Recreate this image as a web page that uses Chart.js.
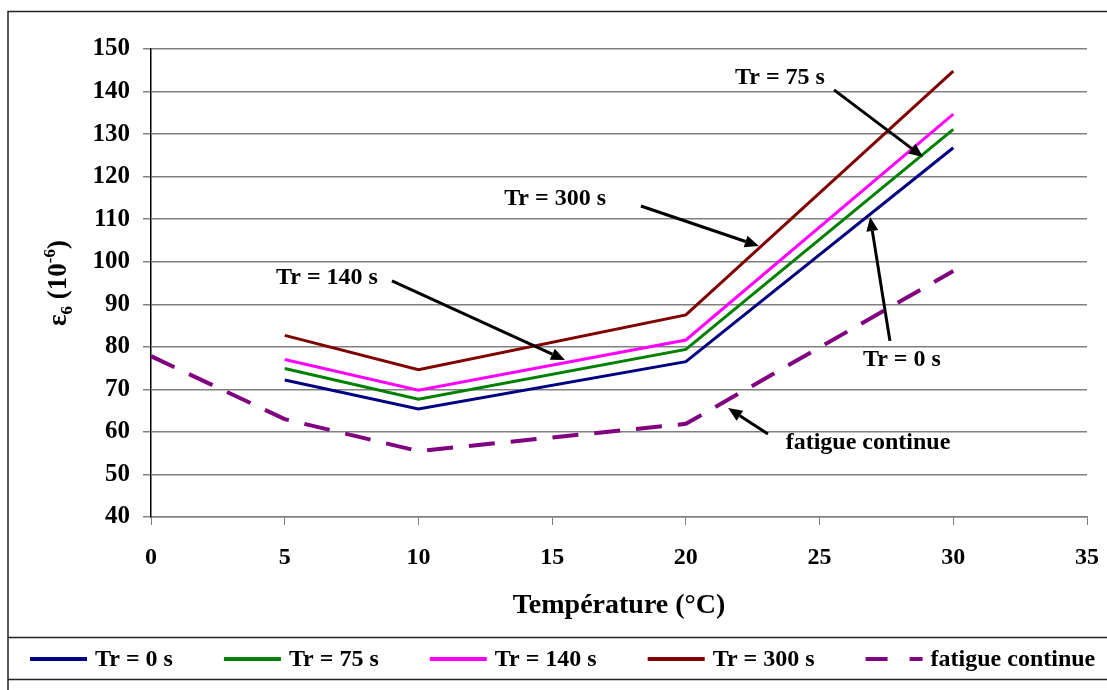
<!DOCTYPE html>
<html>
<head>
<meta charset="utf-8">
<title>ε6 en fonction de la température</title>
<script src="https://cdn.jsdelivr.net/npm/chart.js@4/dist/chart.umd.min.js"></script>
<style>
  html, body { margin: 0; padding: 0; background: #fff; }
  #wrap { width: 1107px; height: 690px; position: relative; }
</style>
</head>
<body>
<div id="wrap"><canvas id="c" width="1107" height="690"></canvas></div>
<script>
// Temperatures (°C) of the rest-period tests and of continuous fatigue
const temps = [5, 10, 20, 30];
const fatigueTemps = [0, 5, 10, 20, 30];

// ε6 values (10^-6) for each rest time Tr
const tr0 = [72.2, 65.4, 76.5, 126.8];
const tr75 = [74.9, 67.7, 79.4, 131.1];
const tr140 = [77.0, 69.8, 81.6, 134.7];
const tr300 = [82.7, 74.6, 87.5, 144.8];
const fatigue = [77.8, 63.0, 55.5, 61.9, 97.8];

const seriesLabels = ['Tr = 0 s', 'Tr = 75 s', 'Tr = 140 s', 'Tr = 300 s', 'fatigue continue'];

// Callout labels with their arrows, in data units: [text, labelX, labelY, tailX, tailY, headX, headY]
const callouts = [
  ['Tr = 75 s', 23.52, 143.2, 25.54, 140.4, 28.87, 124.6],
  ['Tr = 300 s', 15.11, 114.7, 18.32, 113.1, 22.73, 103.7],
  ['Tr = 140 s', 6.58, 96.2, 9.01, 95.5, 15.48, 76.9],
  ['Tr = 0 s', 28.08, 76.9, 27.63, 81.4, 26.89, 110.5],
  ['fatigue continue', 26.81, 57.4, 23.07, 59.5, 21.58, 65.6]
];

const FONT = "'Liberation Serif', 'Times New Roman', serif";

function pts(xs, ys) { return xs.map((x, i) => ({ x: x, y: ys[i] })); }

const datasets = [
  { label: seriesLabels[0], data: pts(temps, tr0), borderColor: '#000080' },
  { label: seriesLabels[1], data: pts(temps, tr75), borderColor: '#008000' },
  { label: seriesLabels[2], data: pts(temps, tr140), borderColor: '#FF00FF' },
  { label: seriesLabels[3], data: pts(temps, tr300), borderColor: '#800000' },
  { label: seriesLabels[4], data: pts(fatigueTemps, fatigue), borderColor: '#800080',
    borderDash: [26, 16], borderWidth: 4, legendDash: [22, 22] }
].map(d => Object.assign({ borderWidth: 3, pointRadius: 0, tension: 0, fill: false }, d));

// White background and outer frame lines
const framePlugin = {
  id: 'frame',
  beforeDraw(chart) {
    const c = chart.ctx;
    c.save();
    c.fillStyle = '#fff';
    c.fillRect(0, 0, chart.width, chart.height);
    c.strokeStyle = '#222';
    c.lineWidth = 1.5;
    c.beginPath();
    c.moveTo(8, 690); c.lineTo(8, 11.5); c.lineTo(1107, 11.5);
    c.moveTo(8, 637.5); c.lineTo(1107, 637.5);
    c.moveTo(8, 679.5); c.lineTo(1107, 679.5);
    c.stroke();
    c.restore();
  }
};

// Rotated y-axis title with subscript and superscript
const yTitlePlugin = {
  id: 'yTitle',
  afterDraw(chart) {
    const c = chart.ctx;
    const big = 'bold 27px ' + FONT, small = 'bold 17px ' + FONT;
    const parts = [
      ['ε', big, 0], ['6', small, 6], [' (10', big, 0], ['-6', small, -11], [')', big, 0]
    ];
    c.save();
    let total = 0;
    parts.forEach(p => { c.font = p[1]; total += c.measureText(p[0]).width; });
    c.translate(66, 283);
    c.rotate(-Math.PI / 2);
    c.fillStyle = '#000';
    c.textBaseline = 'alphabetic';
    let x = -total / 2;
    parts.forEach(p => {
      c.font = p[1];
      c.fillText(p[0], x, p[2]);
      x += c.measureText(p[0]).width;
    });
    c.restore();
  }
};

// Callout texts and arrows, placed through the chart scales
const calloutPlugin = {
  id: 'callouts',
  afterDatasetsDraw(chart) {
    const c = chart.ctx, xs = chart.scales.x, ys = chart.scales.y;
    c.save();
    c.fillStyle = '#000';
    c.strokeStyle = '#000';
    c.font = 'bold 24px ' + FONT;
    c.textAlign = 'center';
    c.textBaseline = 'middle';
    callouts.forEach(a => {
      c.fillText(a[0], xs.getPixelForValue(a[1]), ys.getPixelForValue(a[2]));
      const x0 = xs.getPixelForValue(a[3]), y0 = ys.getPixelForValue(a[4]);
      const x1 = xs.getPixelForValue(a[5]), y1 = ys.getPixelForValue(a[6]);
      const ang = Math.atan2(y1 - y0, x1 - x0);
      const hl = 14, hw = 6;
      const bx = x1 - hl * Math.cos(ang), by = y1 - hl * Math.sin(ang);
      c.lineWidth = 3;
      c.beginPath();
      c.moveTo(x0, y0);
      c.lineTo(bx, by);
      c.stroke();
      c.beginPath();
      c.moveTo(x1, y1);
      c.lineTo(bx + hw * Math.sin(ang), by - hw * Math.cos(ang));
      c.lineTo(bx - hw * Math.sin(ang), by + hw * Math.cos(ang));
      c.closePath();
      c.fill();
    });
    c.restore();
  }
};

// Legend row between the two frame lines
const legendPlugin = {
  id: 'legendRow',
  afterDraw(chart) {
    const c = chart.ctx;
    const y = 659;
    let x = 30;
    c.save();
    c.font = 'bold 24px ' + FONT;
    c.textBaseline = 'middle';
    c.textAlign = 'left';
    chart.data.datasets.forEach(ds => {
      c.strokeStyle = ds.borderColor;
      c.lineWidth = 4;
      c.setLineDash(ds.legendDash || []);
      c.beginPath();
      c.moveTo(x, y);
      c.lineTo(x + 57, y);
      c.stroke();
      c.setLineDash([]);
      c.fillStyle = '#000';
      c.fillText(ds.label, x + 65, y + 1);
      x += 65 + c.measureText(ds.label).width + 51;
    });
    c.restore();
  }
};

new Chart(document.getElementById('c'), {
  type: 'line',
  data: { datasets: datasets },
  options: {
    responsive: false,
    animation: false,
    devicePixelRatio: 1,
    layout: { padding: { left: 0, top: 49, right: 20, bottom: 67 } },
    plugins: { legend: { display: false }, tooltip: { enabled: false } },
    scales: {
      x: {
        type: 'linear', min: 0, max: 35,
        afterFit(s) { s.height = 106; s.paddingLeft = 0; s.paddingRight = 0; },
        ticks: { stepSize: 5, color: '#000', padding: 18, font: { family: FONT, size: 24, weight: 'bold' } },
        grid: { drawOnChartArea: false, drawTicks: true, tickLength: 8, color: '#808080' },
        border: { color: '#808080', width: 1.5 },
        title: { display: true, text: 'Température (°C)', color: '#000', padding: 0,
                 font: { family: FONT, size: 28, weight: 'bold' } }
      },
      y: {
        type: 'linear', min: 40, max: 150,
        afterFit(s) { s.width = 151; },
        ticks: { stepSize: 10, color: '#000', padding: 13, font: { family: FONT, size: 25, weight: 'bold' } },
        grid: { color: '#808080', lineWidth: 1.5, tickLength: 8 },
        border: { color: '#000', width: 1.5 }
      }
    }
  },
  plugins: [framePlugin, yTitlePlugin, calloutPlugin, legendPlugin]
});
</script>
</body>
</html>
